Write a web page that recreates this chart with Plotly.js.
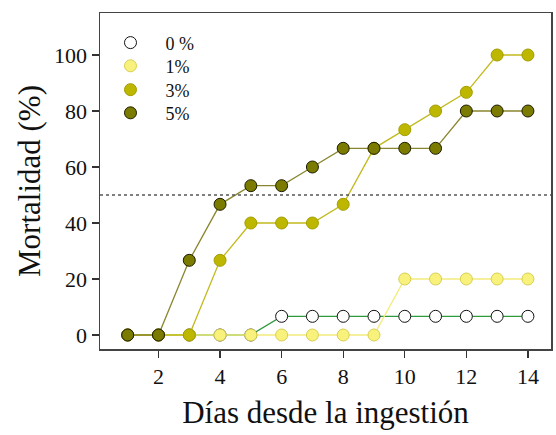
<!DOCTYPE html>
<html>
<head>
<meta charset="utf-8">
<script src="https://cdn.plot.ly/plotly-3.0.1.min.js"></script>
<style>
  html, body { margin: 0; padding: 0; background: #fff; }
  #chart { width: 556px; height: 435px; }
</style>
</head>
<body>
<div id="chart"></div>
<script>
// Days after ingestion
const dias = [1, 2, 3, 4, 5, 6, 7, 8, 9, 10, 11, 12, 13, 14];

// Cumulative mortality (%) for each dose
const dosis0 = [0, 0, 0, 0, 0, 6.67, 6.67, 6.67, 6.67, 6.67, 6.67, 6.67, 6.67, 6.67];
const dosis1 = [0, 0, 0, 0, 0, 0, 0, 0, 0, 20, 20, 20, 20, 20];
const dosis3 = [0, 0, 0, 26.67, 40, 40, 40, 46.67, 66.67, 73.33, 80, 86.67, 100, 100];
const dosis5 = [0, 0, 26.67, 46.67, 53.33, 53.33, 60, 66.67, 66.67, 66.67, 66.67, 80, 80, 80];

const etiquetas = ['0 %', '1%', '3%', '5%'];
const umbral = 50;

const series = [
  { y: dosis0, name: etiquetas[0], line: '#2f9a3c', fill: '#ffffff', edge: '#111111' },
  { y: dosis1, name: etiquetas[1], line: '#f3ec7e', fill: '#f8f27c', edge: '#d8cf52' },
  { y: dosis3, name: etiquetas[2], line: '#c2ba1e', fill: '#bdb700', edge: '#a39d00' },
  { y: dosis5, name: etiquetas[3], line: '#8a8630', fill: '#7b7b00', edge: '#1c1c00' }
];

const serif = 'Liberation Serif, Times New Roman, serif';

// One legend box per dose so the rows can sit closer together
const legendIds = ['legend', 'legend2', 'legend3', 'legend4'];
const legendRows = [0.911, 0.842, 0.771, 0.702];

// Each series: a line trace, then its markers on top (markers carry the legend entry)
const traces = [];
series.forEach((s, i) => {
  traces.push({
    x: dias, y: s.y, type: 'scatter', mode: 'lines',
    line: { color: s.line, width: 1.3 },
    showlegend: false, hoverinfo: 'skip'
  });
  traces.push({
    x: dias, y: s.y, type: 'scatter', mode: 'markers', name: s.name,
    legend: legendIds[i],
    marker: { size: 12, color: s.fill, line: { color: s.edge, width: 1 } }
  });
});

const layout = {
  width: 556, height: 435,
  margin: { l: 100, r: 5, t: 13, b: 86 },
  paper_bgcolor: '#ffffff', plot_bgcolor: '#ffffff',
  font: { family: serif, color: '#111' },
  showlegend: true,
  xaxis: {
    range: [0.1, 14.75], tickvals: [2, 4, 6, 8, 10, 12, 14],
    ticks: 'outside', ticklen: 7, tickcolor: '#333', tickwidth: 1.2,
    showgrid: false, zeroline: false,
    showline: true, mirror: true, linecolor: '#444', linewidth: 1.5,
    tickfont: { family: serif, size: 22, color: '#111' },
    title: { text: 'Días desde la ingestión', font: { family: serif, size: 31, color: '#111' }, standoff: 13 }
  },
  yaxis: {
    range: [-5, 115], tickvals: [0, 20, 40, 60, 80, 100],
    ticks: 'outside', ticklen: 7, tickcolor: '#333', tickwidth: 1.2,
    showgrid: false, zeroline: false,
    showline: true, mirror: true, linecolor: '#444', linewidth: 1.5,
    tickfont: { family: serif, size: 22, color: '#111' },
    title: { text: 'Mortalidad (%)', font: { family: serif, size: 31, color: '#111' }, standoff: 4 }
  },
  shapes: [{
    type: 'line', xref: 'paper', x0: 0, x1: 1, yref: 'y', y0: umbral, y1: umbral,
    line: { color: '#555', width: 1.5, dash: 'dot' }
  }]
};

legendIds.forEach((id, i) => {
  layout[id] = {
    x: -0.01, y: legendRows[i], xanchor: 'left', yanchor: 'middle',
    bgcolor: 'rgba(0,0,0,0)', borderwidth: 0, itemwidth: 60,
    font: { family: serif, size: 18, color: '#111' }
  };
});

Plotly.newPlot('chart', traces, layout, { displayModeBar: false, staticPlot: true });
</script>
</body>
</html>
